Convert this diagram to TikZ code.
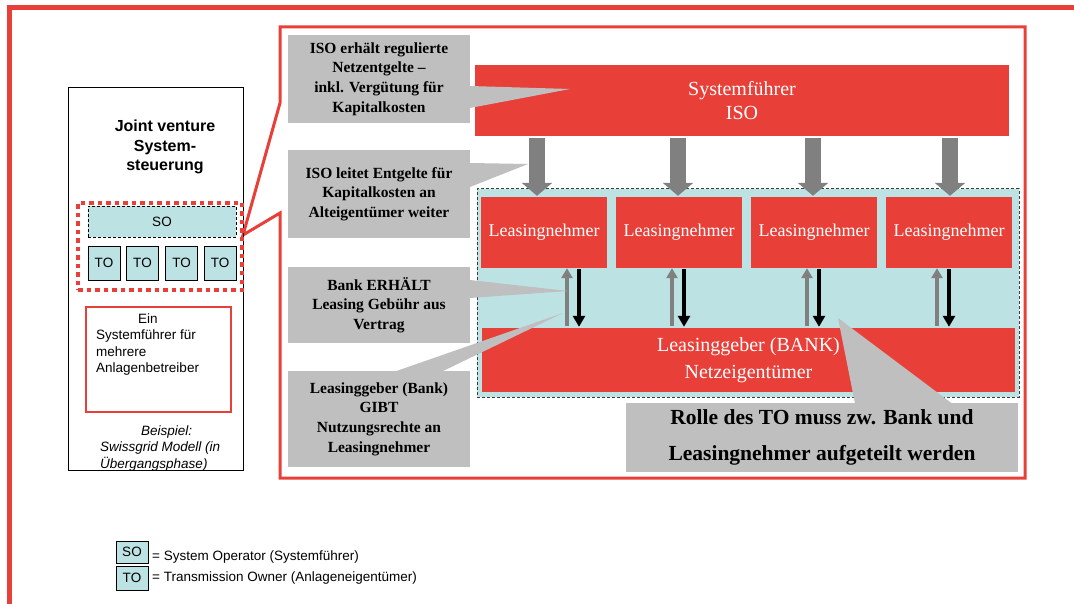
\documentclass[tikz,border=0pt]{standalone}
\usepackage{fontspec}
\setmainfont{Liberation Serif}
\setsansfont{Liberation Sans}
\usetikzlibrary{arrows.meta}
\definecolor{boxred}{RGB}{232,64,56}
\definecolor{lightteal}{RGB}{189,226,228}
\definecolor{calloutgray}{RGB}{191,191,191}
\definecolor{arrowgray}{RGB}{128,128,128}
\definecolor{dashgray}{RGB}{60,60,60}
\begin{document}
\begin{tikzpicture}[x=1pt,y=-1pt,
  redbox/.style={fill=boxred, text=white, inner sep=0pt, align=center},
  leasebox/.style={redbox, minimum width=126pt, minimum height=71pt,
    font=\fontsize{18}{24}\selectfont},
  callbox/.style={fill=calloutgray, inner sep=0pt, align=center,
    font=\fontsize{15.5}{19.6}\selectfont\bfseries},
  tealbox/.style={draw=black, fill=lightteal, line width=0.8pt, inner sep=0pt,
    font=\sffamily\fontsize{13.5}{16}\selectfont},
  bigdown/.style={draw=arrowgray, line width=16pt,
    -{Triangle[width=30pt,length=13pt]}},
  leaseup/.style={draw=arrowgray, line width=4pt,
    -{Triangle[width=11pt,length=10pt]}},
  leasedown/.style={draw=black, line width=3.5pt,
    -{Triangle[width=12pt,length=11pt]}},
  sidetext/.style={inner sep=0pt, align=left, anchor=west,
    font=\sffamily\fontsize{13.5}{16.3}\selectfont}
]
\useasboundingbox (0,0) rectangle (1074,604);

% page frame (top and left edges)
\draw[boxred, line width=5pt, line join=miter] (1074,7.5) -- (9.5,7.5) -- (9.5,604);

% enlarged view frame with its pointer to the SO/TO group
\draw[boxred, line width=3pt, line join=miter]
  (280,27) -- (1025,27) -- (1025,478) -- (280,478) -- (280,213)
  -- (243,235) -- (280,103) -- cycle;

% ---------- left panel ----------
\node[draw=black, line width=1pt, minimum width=175pt, minimum height=382pt,
  inner sep=0pt] (jv) at (155.5,279) {};
\node[align=center, inner sep=0pt, font=\sffamily\bfseries\fontsize{16}{19.5}\selectfont]
  (jvtitle) at (165,147) {Joint venture\\System-\\steuerung};

\node[tealbox, densely dashed, minimum width=148pt, minimum height=31pt] (so) at (162,221.5) {SO};
\node[tealbox, minimum width=32pt, minimum height=34pt] (to1) at (104,263) {TO};
\node[tealbox, minimum width=32pt, minimum height=34pt] (to2) at (142.5,263) {TO};
\node[tealbox, minimum width=32pt, minimum height=34pt] (to3) at (181.5,263) {TO};
\node[tealbox, minimum width=32pt, minimum height=34pt] (to4) at (220,263) {TO};
\node[draw=boxred, line width=4.5pt, dash pattern=on 4.5pt off 4pt,
  minimum width=164pt, minimum height=87pt, inner sep=0pt] (group) at (160,246.5) {};

\node[draw=boxred, line width=1.2pt, minimum width=145pt, minimum height=105pt,
  inner sep=0pt] (oneop) at (158.5,359.5) {};
\node[sidetext] (onetext) at (96,344.5)
  {\hspace*{42pt}Ein\\Systemführer für\\mehrere\\Anlagenbetreiber};
\node[sidetext, font=\sffamily\itshape\fontsize{13.5}{16.5}\selectfont] (example) at (100,448.5)
  {\hspace*{41pt}Beispiel:\\Swissgrid Modell (in\\Übergangsphase)};

% ---------- legend ----------
\node[tealbox, minimum width=32pt, minimum height=22pt] (lso) at (132,552) {SO};
\node[tealbox, minimum width=32pt, minimum height=24pt] (lto) at (132,578) {TO};
\node[sidetext] (lsotext) at (152,557) {= System Operator (Systemführer)};
\node[sidetext] (ltotext) at (152,578.5) {= Transmission Owner (Anlageneigentümer)};

% ---------- leasing model ----------
\node[fill=lightteal, draw=dashgray, line width=1pt, dash pattern=on 3pt off 2pt,
  minimum width=542pt, minimum height=208pt, inner sep=0pt] (lease) at (748,293) {};

\node[redbox, minimum width=534pt, minimum height=71pt,
  font=\fontsize{20}{24}\selectfont] (iso) at (742,100.5) {Systemführer\\ISO};

\node[leasebox] (l1) at (544,232.5) {Leasingnehmer};
\node[leasebox] (l2) at (679,232.5) {Leasingnehmer};
\node[leasebox] (l3) at (814,232.5) {Leasingnehmer};
\node[leasebox] (l4) at (949,232.5) {Leasingnehmer};

\node[redbox, minimum width=533pt, minimum height=64pt,
  font=\fontsize{20}{27}\selectfont] (bank) at (748.5,360) {Leasinggeber (BANK)\\Netzeigentümer};

% arrow columns
\coordinate (d1) at (537,0);
\coordinate (d2) at (678,0);
\coordinate (d3) at (813,0);
\coordinate (d4) at (950,0);
\coordinate (u1) at (567,0);
\coordinate (u2) at (672,0);
\coordinate (u3) at (807,0);
\coordinate (u4) at (937,0);
\coordinate (b1) at (579,0);
\coordinate (b2) at (684,0);
\coordinate (b3) at (819,0);
\coordinate (b4) at (949,0);

% ISO passes fees down to the lessees
\draw[bigdown, shorten <=2pt, shorten >=1pt] (iso.south -| d1) -- (l1.north -| d1);
\draw[bigdown, shorten <=2pt, shorten >=1pt] (iso.south -| d2) -- (l2.north -| d2);
\draw[bigdown, shorten <=2pt, shorten >=1pt] (iso.south -| d3) -- (l3.north -| d3);
\draw[bigdown, shorten <=2pt, shorten >=1pt] (iso.south -| d4) -- (l4.north -| d4);

% exchanges between lessees and the bank
\draw[leaseup, shorten <=2pt] (bank.north -| u1) -- (l1.south -| u1);
\draw[leaseup, shorten <=2pt] (bank.north -| u2) -- (l2.south -| u2);
\draw[leaseup, shorten <=2pt] (bank.north -| u3) -- (l3.south -| u3);
\draw[leaseup, shorten <=2pt] (bank.north -| u4) -- (l4.south -| u4);
\draw[leasedown, shorten <=1pt, shorten >=1pt] (l1.south -| b1) -- (bank.north -| b1);
\draw[leasedown, shorten <=1pt, shorten >=1pt] (l2.south -| b2) -- (bank.north -| b2);
\draw[leasedown, shorten <=1pt, shorten >=1pt] (l3.south -| b3) -- (bank.north -| b3);
\draw[leasedown, shorten <=1pt, shorten >=1pt] (l4.south -| b4) -- (bank.north -| b4);

% ---------- callouts ----------
\fill[calloutgray] (470,86) -- (570,89) -- (470,108) -- cycle;
\fill[calloutgray] (470,163) -- (528,164) -- (470,187) -- cycle;
\fill[calloutgray] (470,280) -- (568,291) -- (470,298) -- cycle;
\fill[calloutgray] (395,371.5) -- (563,313) -- (442,371.5) -- cycle;
\fill[calloutgray] (855,403.5) -- (838,318) -- (952,403.5) -- cycle;

\node[callbox, minimum width=182pt, minimum height=88pt] (c1) at (379,79)
  {ISO erhält regulierte\\Netzentgelte --\\inkl. Vergütung für\\Kapitalkosten};
\node[callbox, minimum width=182pt, minimum height=88pt] (c2) at (379,194)
  {ISO leitet Entgelte für\\Kapitalkosten an\\Alteigentümer weiter};
\node[callbox, minimum width=182pt, minimum height=76pt] (c3) at (379,305)
  {Bank ERHÄLT\\Leasing Gebühr aus\\Vertrag};
\node[callbox, minimum width=182pt, minimum height=96pt] (c4) at (379,419)
  {Leasinggeber (Bank)\\GIBT\\Nutzungsrechte an\\Leasingnehmer};
\node[callbox, minimum width=392pt, minimum height=69pt,
  font=\fontsize{21.5}{36}\selectfont\bfseries] (c5) at (822,437.5)
  {Rolle des TO muss zw. Bank und\\Leasingnehmer aufgeteilt werden};
\end{tikzpicture}
\end{document}
